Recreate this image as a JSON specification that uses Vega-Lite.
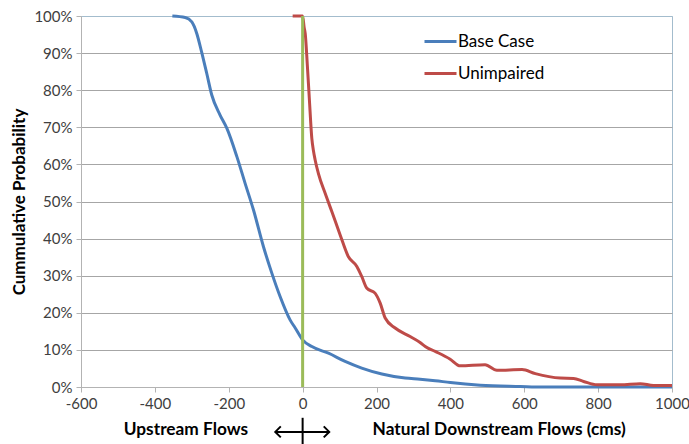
{
  "$schema": "https://vega.github.io/schema/vega-lite/v6.json",
  "width": 591,
  "height": 371,
  "autosize": {"type": "none"},
  "padding": {"left": 81, "top": 16, "right": 17, "bottom": 57},
  "background": "white",
  "config": {"font": "Lato", "view": {"stroke": "#a3bccd", "strokeWidth": 1}},
  "data": {"values": [
    {"series": "Base Case", "flow": -352.7, "prob": 1.0},
    {"series": "Base Case", "flow": -318, "prob": 0.996},
    {"series": "Base Case", "flow": -300, "prob": 0.984},
    {"series": "Base Case", "flow": -286.6, "prob": 0.953},
    {"series": "Base Case", "flow": -273, "prob": 0.901},
    {"series": "Base Case", "flow": -259.5, "prob": 0.845},
    {"series": "Base Case", "flow": -246, "prob": 0.787},
    {"series": "Base Case", "flow": -223.5, "prob": 0.733},
    {"series": "Base Case", "flow": -205, "prob": 0.697},
    {"series": "Base Case", "flow": -178, "prob": 0.621},
    {"series": "Base Case", "flow": -155.7, "prob": 0.549},
    {"series": "Base Case", "flow": -133, "prob": 0.477},
    {"series": "Base Case", "flow": -106, "prob": 0.378},
    {"series": "Base Case", "flow": -83.4, "prob": 0.307},
    {"series": "Base Case", "flow": -61, "prob": 0.244},
    {"series": "Base Case", "flow": -34, "prob": 0.181},
    {"series": "Base Case", "flow": -20, "prob": 0.159},
    {"series": "Base Case", "flow": 0, "prob": 0.127},
    {"series": "Base Case", "flow": 25, "prob": 0.109},
    {"series": "Base Case", "flow": 70, "prob": 0.091},
    {"series": "Base Case", "flow": 115, "prob": 0.069},
    {"series": "Base Case", "flow": 160, "prob": 0.051},
    {"series": "Base Case", "flow": 214.5, "prob": 0.035},
    {"series": "Base Case", "flow": 277.6, "prob": 0.024},
    {"series": "Base Case", "flow": 318, "prob": 0.021},
    {"series": "Base Case", "flow": 359, "prob": 0.017},
    {"series": "Base Case", "flow": 400, "prob": 0.012},
    {"series": "Base Case", "flow": 481, "prob": 0.005},
    {"series": "Base Case", "flow": 589, "prob": 0.0015},
    {"series": "Base Case", "flow": 650, "prob": 0.0},
    {"series": "Base Case", "flow": 1000, "prob": 0.0},
    {"series": "Unimpaired", "flow": -27, "prob": 1.0},
    {"series": "Unimpaired", "flow": 0, "prob": 1.0},
    {"series": "Unimpaired", "flow": 4, "prob": 0.97},
    {"series": "Unimpaired", "flow": 7, "prob": 0.953},
    {"series": "Unimpaired", "flow": 13, "prob": 0.863},
    {"series": "Unimpaired", "flow": 18.4, "prob": 0.773},
    {"series": "Unimpaired", "flow": 24.9, "prob": 0.67},
    {"series": "Unimpaired", "flow": 29.3, "prob": 0.637},
    {"series": "Unimpaired", "flow": 33.9, "prob": 0.612},
    {"series": "Unimpaired", "flow": 42.8, "prob": 0.575},
    {"series": "Unimpaired", "flow": 61, "prob": 0.522},
    {"series": "Unimpaired", "flow": 79, "prob": 0.473},
    {"series": "Unimpaired", "flow": 101.6, "prob": 0.41},
    {"series": "Unimpaired", "flow": 124, "prob": 0.351},
    {"series": "Unimpaired", "flow": 146.8, "prob": 0.325},
    {"series": "Unimpaired", "flow": 160, "prob": 0.298},
    {"series": "Unimpaired", "flow": 174, "prob": 0.266},
    {"series": "Unimpaired", "flow": 196, "prob": 0.253},
    {"series": "Unimpaired", "flow": 210, "prob": 0.226},
    {"series": "Unimpaired", "flow": 223.5, "prob": 0.186},
    {"series": "Unimpaired", "flow": 250.5, "prob": 0.159},
    {"series": "Unimpaired", "flow": 291, "prob": 0.136},
    {"series": "Unimpaired", "flow": 318, "prob": 0.12},
    {"series": "Unimpaired", "flow": 332, "prob": 0.109},
    {"series": "Unimpaired", "flow": 359, "prob": 0.096},
    {"series": "Unimpaired", "flow": 399.5, "prob": 0.075},
    {"series": "Unimpaired", "flow": 426.6, "prob": 0.057},
    {"series": "Unimpaired", "flow": 494, "prob": 0.06},
    {"series": "Unimpaired", "flow": 526, "prob": 0.045},
    {"series": "Unimpaired", "flow": 594, "prob": 0.047},
    {"series": "Unimpaired", "flow": 630, "prob": 0.036},
    {"series": "Unimpaired", "flow": 697.5, "prob": 0.024},
    {"series": "Unimpaired", "flow": 733.5, "prob": 0.023},
    {"series": "Unimpaired", "flow": 760.5, "prob": 0.015},
    {"series": "Unimpaired", "flow": 797, "prob": 0.006},
    {"series": "Unimpaired", "flow": 860, "prob": 0.006},
    {"series": "Unimpaired", "flow": 914, "prob": 0.009},
    {"series": "Unimpaired", "flow": 950, "prob": 0.004},
    {"series": "Unimpaired", "flow": 1000, "prob": 0.004}
  ]},
  "layer": [
    {
      "mark": {"type": "line", "interpolate": "monotone", "strokeWidth": 3},
      "encoding": {
        "x": {
          "field": "flow", "type": "quantitative",
          "scale": {"domain": [-600, 1000], "nice": false, "zero": false},
          "axis": {
            "tickCount": 8,
            "labelExpr": "'' + round(datum.value)",
            "grid": false, "title": null,
            "labelFontSize": 15, "labelColor": "#404040", "labelFont": "Lato",
            "domainColor": "#b3b3b3", "tickColor": "#b3b3b3", "tickSize": 5,
            "labelPadding": 4, "labelFlush": false, "labelOverlap": false
          }
        },
        "y": {
          "field": "prob", "type": "quantitative",
          "scale": {"domain": [0, 1], "nice": false},
          "axis": {
            "tickCount": 10,
            "labelExpr": "round(datum.value * 100) + '%'",
            "title": "Cummulative Probability",
            "titleFont": "Lato", "titleFontSize": 17, "titleFontWeight": "bold", "titleColor": "black",
            "titlePadding": 5,
            "labelFontSize": 15, "labelColor": "#404040", "labelFont": "Lato", "labelOverlap": false,
            "grid": true,
            "gridColor": {"condition": {"test": "datum.value == 1", "value": "#a3bccd"}, "value": "#a6a6a6"},
            "domainColor": "#b3b3b3", "tickColor": "#b3b3b3", "tickSize": 5, "labelPadding": 4
          }
        },
        "color": {
          "field": "series", "type": "nominal",
          "scale": {"domain": ["Base Case", "Unimpaired"], "range": ["#4a7ebb", "#be4b48"]},
          "legend": {
            "orient": "none", "legendX": 342, "legendY": 8, "title": null,
            "symbolType": "stroke", "symbolSize": 1024, "symbolStrokeWidth": 3,
            "labelFontSize": 17, "labelFont": "Lato", "labelColor": "black",
            "labelOffset": 0, "rowPadding": 6, "padding": 0
          }
        }
      }
    },
    {
      "data": {"values": [{}]},
      "mark": {"type": "rule", "color": "#9bbb59", "strokeWidth": 3},
      "encoding": {"x": {"datum": 0, "type": "quantitative"}, "y": {"datum": 0, "type": "quantitative"}, "y2": {"datum": 1}}
    },
    {
      "data": {"values": [{}]},
      "mark": {"type": "text", "fontSize": 17.3, "fontWeight": "bold", "color": "black", "font": "Lato"},
      "encoding": {"x": {"datum": -316, "type": "quantitative"}, "y": {"datum": -0.115, "type": "quantitative"}, "text": {"value": "Upstream Flows"}}
    },
    {
      "data": {"values": [{}]},
      "mark": {"type": "text", "fontSize": 17.3, "fontWeight": "bold", "color": "black", "font": "Lato"},
      "encoding": {"x": {"datum": 532, "type": "quantitative"}, "y": {"datum": -0.115, "type": "quantitative"}, "text": {"value": "Natural Downstream Flows (cms)"}}
    },
    {
      "data": {"values": [{}]},
      "mark": {"type": "rule", "color": "black", "strokeWidth": 2},
      "encoding": {"x": {"datum": -74, "type": "quantitative"}, "x2": {"datum": 72}, "y": {"datum": -0.121, "type": "quantitative"}}
    },
    {
      "data": {"values": [{}]},
      "mark": {"type": "rule", "color": "black", "strokeWidth": 2},
      "encoding": {"x": {"datum": 0, "type": "quantitative"}, "y": {"datum": -0.083, "type": "quantitative"}, "y2": {"datum": -0.155}}
    },
    {
      "data": {"values": [{}]},
      "mark": {"type": "point", "shape": "M 1 -1 L 0 0 L 1 1", "size": 121, "filled": false, "stroke": "black", "strokeWidth": 2, "opacity": 1},
      "encoding": {"x": {"datum": -74, "type": "quantitative"}, "y": {"datum": -0.121, "type": "quantitative"}}
    },
    {
      "data": {"values": [{}]},
      "mark": {"type": "point", "shape": "M -1 -1 L 0 0 L -1 1", "size": 121, "filled": false, "stroke": "black", "strokeWidth": 2, "opacity": 1},
      "encoding": {"x": {"datum": 72, "type": "quantitative"}, "y": {"datum": -0.121, "type": "quantitative"}}
    }
  ]
}
